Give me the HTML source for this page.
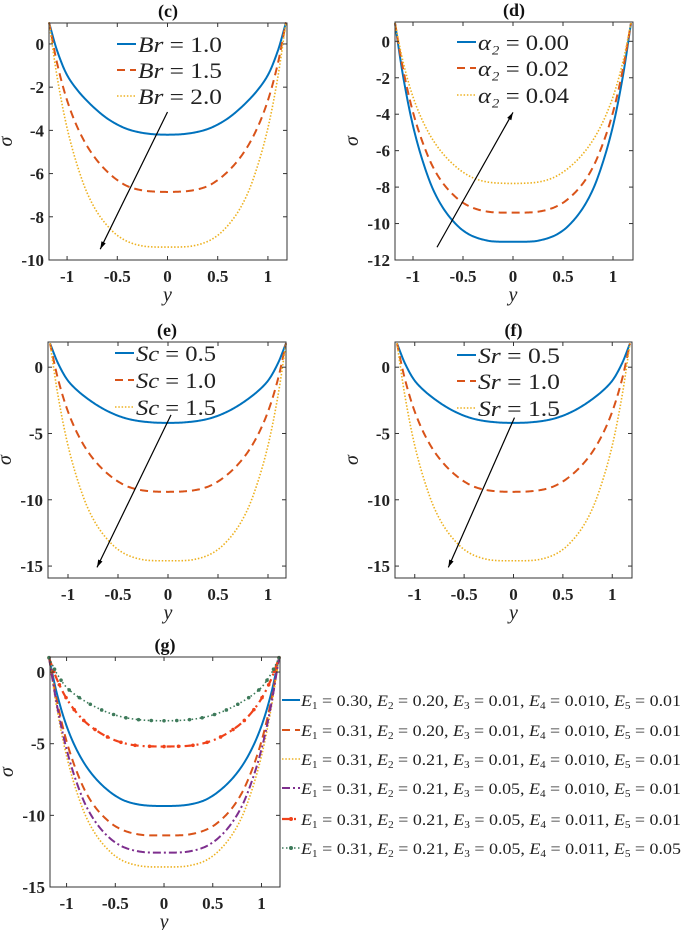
<!DOCTYPE html>
<html><head><meta charset="utf-8">
<style>
html,body{margin:0;padding:0;background:#fff;}
svg{display:block;}
.tk{font-family:"Liberation Serif",serif;font-weight:bold;font-size:17px;fill:#222;}
.ttl{font-family:"Liberation Serif",serif;font-weight:bold;font-size:18px;fill:#111;}
.ax{font-family:"Liberation Serif",serif;font-style:italic;font-size:20px;fill:#222;}
.lg{font-family:"Liberation Serif",serif;font-size:22px;fill:#222;}
.lg2{font-family:"Liberation Serif",serif;font-size:16px;fill:#222;}
</style></head>
<body>
<svg id="fig" width="685" height="930" viewBox="0 0 685 930" xmlns="http://www.w3.org/2000/svg"></svg>
<script>
// half-profile sample points |y| (mirrored for the symmetric curves)
const yKnots = [0,0.1,0.2,0.3,0.4,0.5,0.6,0.7,0.8,0.9,1.0,1.1,1.18];
// panel (c) Br
const cBr10 = [-4.2,-4.19,-4.15,-4.07,-3.94,-3.73,-3.45,-3.08,-2.64,-2.12,-1.44,-0.3,1];
const cBr15 = [-6.85,-6.84,-6.81,-6.73,-6.58,-6.3,-5.91,-5.40,-4.73,-3.83,-2.61,-0.88,1];
const cBr20 = [-9.4,-9.4,-9.38,-9.3,-9.14,-8.86,-8.41,-7.79,-6.9,-5.6,-3.89,-1.5,1];
// panel (d) alpha2
const dA000 = [-11,-11,-10.98,-10.88,-10.7,-10.38,-9.86,-9.14,-8.12,-6.62,-4.64,-1.88,1];
const dA002 = [-9.4,-9.4,-9.38,-9.3,-9.14,-8.86,-8.41,-7.79,-6.9,-5.6,-3.89,-1.5,1];
const dA004 = [-7.8,-7.79,-7.76,-7.67,-7.49,-7.18,-6.74,-6.17,-5.42,-4.41,-3.05,-1.11,1];
// panel (e) Sc
const eSc05 = [-4.2,-4.19,-4.14,-4.05,-3.9,-3.66,-3.33,-2.91,-2.4,-1.8,-1.02,0.3,1.8];
const eSc10 = [-9.4,-9.39,-9.34,-9.23,-9.01,-8.62,-8.06,-7.33,-6.38,-5.09,-3.35,-0.89,1.8];
const eSc15 = [-14.6,-14.6,-14.57,-14.44,-14.19,-13.75,-13.04,-12.06,-10.66,-8.61,-5.91,-2.14,1.8];
// panel (f) Sr
const fSr05 = [-4.2,-4.19,-4.14,-4.05,-3.9,-3.66,-3.33,-2.91,-2.4,-1.8,-1.02,0.3,1.8];
const fSr10 = [-9.4,-9.39,-9.34,-9.23,-9.01,-8.62,-8.06,-7.33,-6.38,-5.09,-3.35,-0.89,1.8];
const fSr15 = [-14.6,-14.6,-14.57,-14.44,-14.19,-13.75,-13.04,-12.06,-10.66,-8.61,-5.91,-2.14,1.8];
// panel (g) E parameters
const gS1 = [-9.35,-9.34,-9.30,-9.19,-8.99,-8.63,-8.11,-7.44,-6.56,-5.37,-3.76,-1.48,1];
const gS2 = [-11.4,-11.4,-11.38,-11.28,-11.09,-10.76,-10.22,-9.48,-8.42,-6.87,-4.83,-1.98,1];
const gS3 = [-13.6,-13.6,-13.57,-13.45,-13.24,-12.84,-12.21,-11.34,-10.1,-8.27,-5.86,-2.5,1];
const gS4 = [-12.6,-12.6,-12.57,-12.46,-12.26,-11.89,-11.31,-10.49,-9.34,-7.64,-5.39,-2.26,1];
const gS5 = [-5.2,-5.19,-5.17,-5.11,-4.98,-4.77,-4.46,-4.05,-3.53,-2.81,-1.85,-0.49,1];
const gS6 = [-3.4,-3.39,-3.36,-3.29,-3.18,-3.0,-2.76,-2.45,-2.08,-1.64,-1.07,-0.1,1];
const xTicks = [-1,-0.5,0,0.5,1];
const xTickLabels = ["-1","-0.5","0","0.5","1"];
const yTicksC = [0,-2,-4,-6,-8,-10];
const yTicksD = [0,-2,-4,-6,-8,-10,-12];
const yTicksEF = [0,-5,-10,-15];
const yTicksG = [0,-5,-10,-15];
const legC = ["Br = 1.0","Br = 1.5","Br = 2.0"];
const legD = ["α₂ = 0.00","α₂ = 0.02","α₂ = 0.04"];
const legE = ["Sc = 0.5","Sc = 1.0","Sc = 1.5"];
const legF = ["Sr = 0.5","Sr = 1.0","Sr = 1.5"];
const legG = [
 ["0.30","0.20","0.01","0.010","0.01"],
 ["0.31","0.20","0.01","0.010","0.01"],
 ["0.31","0.21","0.01","0.010","0.01"],
 ["0.31","0.21","0.05","0.010","0.01"],
 ["0.31","0.21","0.05","0.011","0.01"],
 ["0.31","0.21","0.05","0.011","0.05"]];

const NS="http://www.w3.org/2000/svg";
const svg=document.getElementById('fig');
function mk(tag,attrs,parent){const e=document.createElementNS(NS,tag);for(const k in attrs)e.setAttribute(k,attrs[k]);(parent||svg).appendChild(e);return e;}

const BLUE="#0072BD",ORANGE="#D95319",YEL="#EDB120",PUR="#7E2F8E",RED="#F0421A",GRN="#3D7A5A";
const styles={
 solid:{stroke:BLUE,w:2,dash:""},
 dash:{stroke:ORANGE,w:2,dash:"8,5"},
 dot:{stroke:YEL,w:1.6,dash:"1.5,1.8"},
 dashdot:{stroke:PUR,w:2,dash:"8,3,2,3"},
 reddash:{stroke:RED,w:2.2,dash:"8,4,2,4",marker:true},
 green:{stroke:GRN,w:1.6,dash:"1.5,2.5",marker:true}
};

function monotone(xsA,ysA){
 const n=xsA.length,d=[],m=new Array(n);
 for(let i=0;i<n-1;i++)d.push((ysA[i+1]-ysA[i])/(xsA[i+1]-xsA[i]));
 m[0]=d[0];m[n-1]=d[n-2];
 for(let i=1;i<n-1;i++){
  if(d[i-1]*d[i]<=0)m[i]=0;
  else{const h0=xsA[i]-xsA[i-1],h1=xsA[i+1]-xsA[i];const w1=2*h1+h0,w2=h1+2*h0;m[i]=(w1+w2)/(w1/d[i-1]+w2/d[i]);}
 }
 return function(x){
  let i=0;while(i<n-2&&x>xsA[i+1])i++;
  const h=xsA[i+1]-xsA[i],t=(x-xsA[i])/h;
  const h00=2*t*t*t-3*t*t+1,h10=t*t*t-2*t*t+t,h01=-2*t*t*t+3*t*t,h11=t*t*t-t*t;
  return h00*ysA[i]+h10*h*m[i]+h01*ysA[i+1]+h11*h*m[i+1];
 };
}

function panel(p){
 const g=mk('g',{});
 
 
 const xs=v=>p.x0+(v-p.xd[0])/(p.xd[1]-p.xd[0])*(p.x1-p.x0);
 const ys=v=>p.y1-(v-p.yd[0])/(p.yd[1]-p.yd[0])*(p.y1-p.y0);
 p.series.forEach((s,i)=>{
  const st=styles[s.style];
  const X=[],Y=[];
  for(let k=yKnots.length-1;k>0;k--){X.push(-yKnots[k]);Y.push(s.vals[k]);}
  for(let k=0;k<yKnots.length;k++){X.push(yKnots[k]);Y.push(s.vals[k]);}
  const f=monotone(X,Y);
  const N=240;let d="";
  for(let j=0;j<=N;j++){const x=X[0]+(X[X.length-1]-X[0])*j/N;d+=(j?"L":"M")+xs(x).toFixed(2)+","+ys(f(x)).toFixed(2);}
  const path=mk('path',{d:d,fill:'none',stroke:st.stroke,'stroke-width':st.w,'stroke-dasharray':st.dash},g);
  
  
  if(st.marker){
   const L=path.getTotalLength();
   for(let t=0;t<=L;t+=L/22){const q=path.getPointAtLength(t);mk('circle',{cx:q.x,cy:q.y,r:1.8,fill:st.stroke},g);}
  }
 });
 const box=mk('rect',{x:p.x0,y:p.y0,width:p.x1-p.x0,height:p.y1-p.y0,fill:'none',stroke:'#333','stroke-width':1},g);
 
 
 xTicks.forEach((t,i)=>{
  const x=xs(t);
  mk('line',{x1:x,x2:x,y1:p.y1,y2:p.y1-4,stroke:'#333'},g);
  mk('line',{x1:x,x2:x,y1:p.y0,y2:p.y0+4,stroke:'#333'},g);
  const tx=mk('text',{x:x,y:p.y1+22,'text-anchor':'middle',class:'tk'},g);
  tx.textContent=xTickLabels[i];
  
  
 });
 p.yt.forEach(t=>{
  const y=ys(t);
  mk('line',{x1:p.x0,x2:p.x0+4,y1:y,y2:y,stroke:'#333'},g);
  mk('line',{x1:p.x1,x2:p.x1-4,y1:y,y2:y,stroke:'#333'},g);
  const tx=mk('text',{x:p.x0-5,y:y+6,'text-anchor':'end',class:'tk'},g);
  tx.textContent=String(t);
  
  
 });
 const ti=mk('text',{x:(p.x0+p.x1)/2,y:p.y0-6,'text-anchor':'middle',class:'ttl'},g);
 ti.textContent=p.title;
 
 
 const xl=mk('text',{x:xs(0),y:p.y1+41,'text-anchor':'middle',class:'ax'},g);
 xl.textContent='y';
 
 
 const cy=(p.y0+p.y1)/2;
 const yl=mk('text',{x:p.x0-37,y:cy,'text-anchor':'middle',class:'ax',transform:`rotate(-90 ${p.x0-37} ${cy})`},g);
 yl.textContent='σ';
 
 
 if(p.arrow){
  const a=p.arrow;const X1=xs(a[0]),Y1=ys(a[1]),X2=xs(a[2]),Y2=ys(a[3]);
  const ag=mk('g',{},g);
  
  
  mk('line',{x1:X1,y1:Y1,x2:X2,y2:Y2,stroke:'#000','stroke-width':1.2},ag);
  const ang=Math.atan2(Y2-Y1,X2-X1),h=8;
  const pA=[X2-h*Math.cos(ang-0.3),Y2-h*Math.sin(ang-0.3)],pB=[X2-h*Math.cos(ang+0.3),Y2-h*Math.sin(ang+0.3)];
  mk('polygon',{points:`${X2},${Y2} ${pA} ${pB}`,fill:'#000'},ag);
 }
 if(p.leg){
  p.leg.forEach((l,i)=>{
   const st=styles[p.series[i].style];
   const y=p.legY[i];
   const lg=mk('g',{},g);
   
   
   mk('line',{x1:p.legX,x2:p.legX+19,y1:y,y2:y,stroke:st.stroke,'stroke-width':st.w,'stroke-dasharray':st.dash},lg);
   const t=mk('text',{x:p.legX+21,y:y+8,class:'lg',textLength:p.legW,lengthAdjust:'spacingAndGlyphs'},lg);
   const parts=l.split(' = ');
   const a=mk('tspan',{'font-style':'italic'},t);a.textContent=parts[0];
   const b=mk('tspan',{},t);b.textContent=' = '+parts[1];
  });
 }
}

panel({name:'panel-c',id:'c',title:'(c)',x0:49,x1:287,y0:23,y1:260,xd:[-1.18,1.19],yd:[-10,0.97],yt:yTicksC,
 series:[{vals:cBr10,style:'solid'},{vals:cBr15,style:'dash'},{vals:cBr20,style:'dot'}],
 arrow:[0,-3.15,-0.67,-9.5],leg:legC,legX:117,legY:[44,70,96],legW:84});
panel({name:'panel-d',id:'d',title:'(d)',x0:395,x1:633,y0:22,y1:260,xd:[-1.18,1.2],yd:[-12,1.06],yt:yTicksD,
 series:[{vals:dA000,style:'solid'},{vals:dA002,style:'dash'},{vals:dA004,style:'dot'}],
 arrow:[-0.76,-11.3,0,-3.9],leg:legD,legX:457,legY:[42,68,95],legW:91});
panel({name:'panel-e',id:'e',title:'(e)',x0:48,x1:286,y0:342,y1:578,xd:[-1.2,1.18],yd:[-15.9,1.9],yt:yTicksEF,
 series:[{vals:eSc05,style:'solid'},{vals:eSc10,style:'dash'},{vals:eSc15,style:'dot'}],
 arrow:[0.03,-3.6,-0.71,-15.1],leg:legE,legX:115,legY:[353,380,407],legW:80});
panel({name:'panel-f',id:'f',title:'(f)',x0:395,x1:632,y0:342,y1:578,xd:[-1.2,1.2],yd:[-15.9,1.9],yt:yTicksEF,
 series:[{vals:fSr05,style:'solid'},{vals:fSr10,style:'dash'},{vals:fSr15,style:'dot'}],
 arrow:[0.01,-3.8,-0.66,-15.1],leg:legF,legX:457,legY:[355,381,408],legW:82});
panel({name:'panel-g',id:'g',title:'(g)',x0:50,x1:280,y0:657,y1:887,xd:[-1.17,1.19],yd:[-15,1.05],yt:yTicksG,
 series:[{vals:gS1,style:'solid'},{vals:gS2,style:'dash'},{vals:gS3,style:'dot'},{vals:gS4,style:'dashdot'},{vals:gS5,style:'reddash'},{vals:gS6,style:'green'}]});

const gStyles=['solid','dash','dot','dashdot','reddash','green'];
const gLegY=[700,730,759,788,819,848];
legG.forEach((vals,i)=>{
 const st=styles[gStyles[i]];
 const y=gLegY[i];
 const lg=mk('g',{});
 
 
 mk('line',{x1:282,x2:300,y1:y,y2:y,stroke:st.stroke,'stroke-width':st.w,'stroke-dasharray':st.dash},lg);
 if(st.marker)mk('circle',{cx:291,cy:y,r:2,fill:st.stroke},lg);
 const t=mk('text',{x:301,y:y+6,class:'lg2',textLength:380,lengthAdjust:'spacingAndGlyphs'},lg);
 vals.forEach((v,k)=>{
  const a=mk('tspan',{'font-style':'italic'},t);a.textContent='E';
  const s=mk('tspan',{'font-size':'10px',dy:'3'},t);s.textContent=String(k+1);
  const b=mk('tspan',{dy:'-3'},t);b.textContent=' = '+v+(k<4?', ':'');
 });
});
</script>
</body></html>
